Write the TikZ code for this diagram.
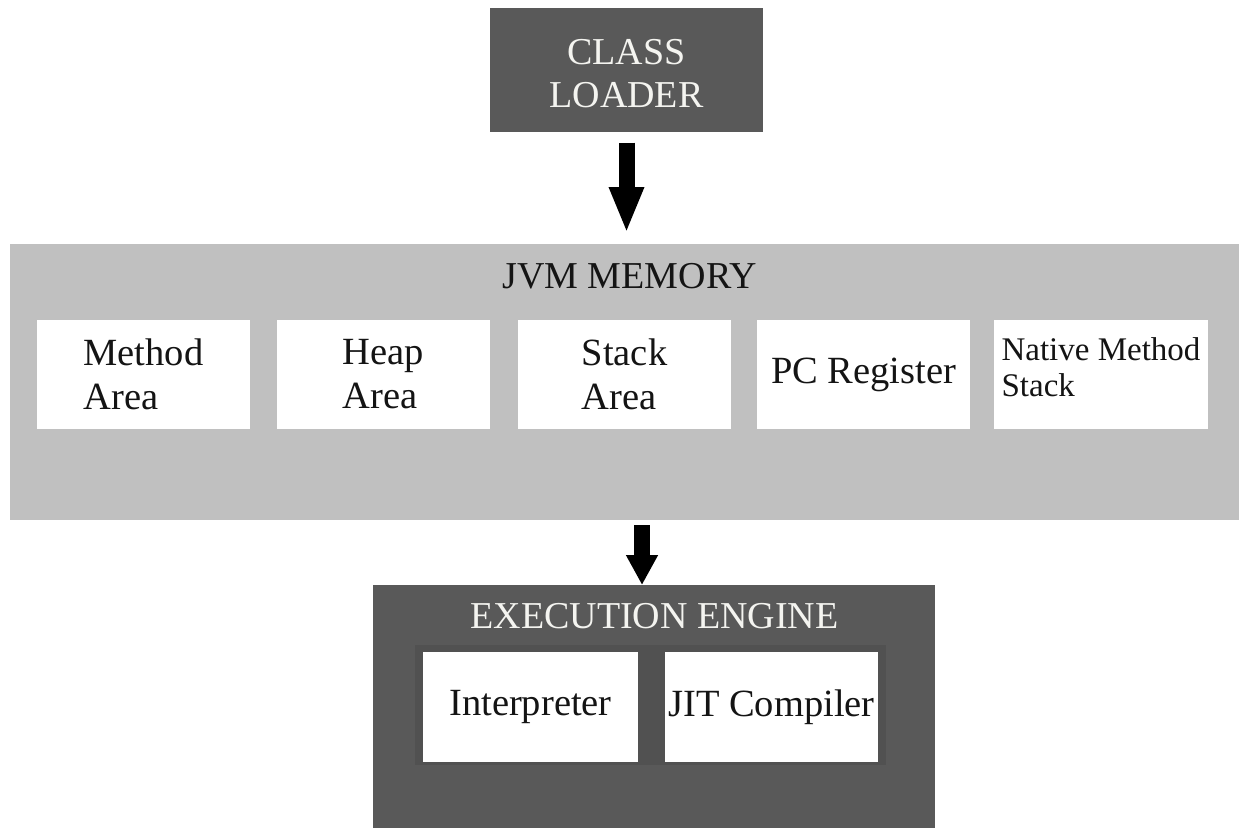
\documentclass[tikz,border=0pt]{standalone}
\usepackage{fontspec}
\setmainfont{Liberation Serif}
\usetikzlibrary{arrows.meta}
\definecolor{darkbox}{HTML}{595959}
\definecolor{darkband}{HTML}{515151}
\definecolor{lightbox}{HTML}{C0C0C0}
\definecolor{paletext}{HTML}{F4F4F0}
\definecolor{inktext}{HTML}{141414}
\tikzset{
  box/.style={rectangle, inner sep=0pt, outer sep=0pt, anchor=center},
  bigfont/.style={font=\fontsize{38}{43}\selectfont},
  cellfont/.style={font=\fontsize{38.5}{44}\selectfont},
  cell/.style={box, fill=white, minimum height=109pt, align=left, cellfont, text=inktext},
  arrowA/.style={draw=black, line width=16pt, -{Triangle[width=32pt,length=46pt]}},
  arrowB/.style={draw=black, line width=16pt, -{Triangle[width=30pt,length=30pt]}},
}
\begin{document}
\begin{tikzpicture}[x=1pt,y=-1pt]
\useasboundingbox (0,0) rectangle (1239,828);
\fill[white] (0,0) rectangle (1239,828);

% Class loader
\node[box, fill=darkbox, minimum width=273pt, minimum height=124pt,
      text=paletext, align=center, bigfont] (loader) at (626.5,69.5)
      {\rule{0pt}{34pt}CLASS\\LOADER};

% JVM memory
\node[box, fill=lightbox, minimum width=1229pt, minimum height=276pt] (jvm) at (624.5,382) {};
\node[anchor=base, inner sep=0pt, bigfont, text=inktext] (jvmtitle) at (629.5,288) {JVM MEMORY};
\node[cell, minimum width=213pt] (method) at (143.5,374.5) {Method\\Area};
\node[cell, minimum width=213pt] (heap) at (383.5,374.5) {Heap\\Area};
\node[cell, minimum width=213pt] (stack) at (624.5,374.5) {Stack\\Area};
\node[cell, minimum width=213pt] (pc) at (863.5,374.5) {PC Register};
\node[cell, minimum width=214pt, font=\fontsize{33}{36}\selectfont] (native) at (1101,374.5)
      {Native Method\\Stack\rule[-15.5pt]{0pt}{15.5pt}};

% Execution engine
\node[box, fill=darkbox, minimum width=562pt, minimum height=243pt] (ee) at (654,706.5) {};
\node[anchor=base, inner sep=0pt, bigfont, text=paletext] (eetitle) at (654.5,628) {EXECUTION ENGINE};
\node[box, fill=darkband, minimum width=471pt, minimum height=120pt] (band) at (650.5,705) {};
\node[cell, minimum width=215pt, minimum height=110pt] (interp) at (530.5,707) {Interpreter};
\node[cell, minimum width=213pt, minimum height=110pt] (jit) at (771.5,707) {JIT Compiler};

% Arrows
\draw[arrowA, shorten <=11pt, shorten >=11pt] (loader.south) -- (loader.south |- jvm.north);
\coordinate (a2) at (642,0);
\draw[arrowB, shorten <=5pt] (jvm.south -| a2) -- (ee.north -| a2);
\end{tikzpicture}
\end{document}
